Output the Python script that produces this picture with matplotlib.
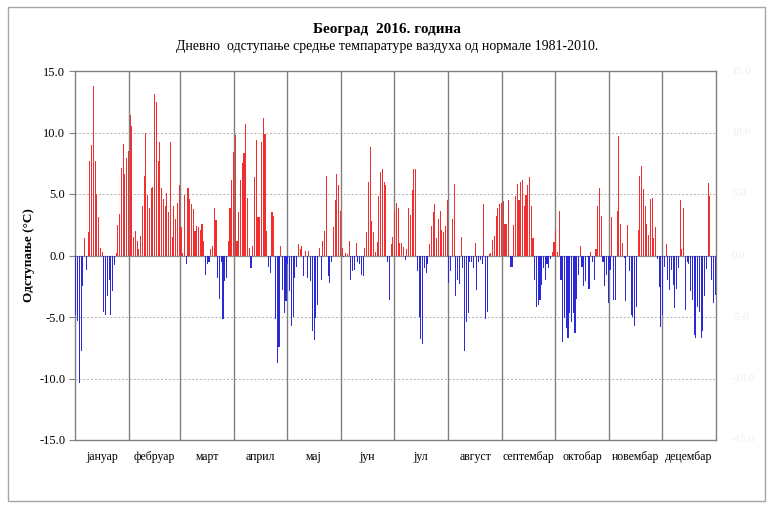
import matplotlib
matplotlib.use("Agg")
import matplotlib.pyplot as plt
import numpy as np
from matplotlib.patches import Rectangle

# ---- data (deviation from 1981-2010 normal, °C) ----
jan = [-4.8, -5.3, -10.4, -7.8, -2.5, 1.4, -1.2, 1.9, 7.7, 9.0, 13.8, 7.7, 5.0, 3.1, 0.6, 0.3,
       -4.6, -4.8, -3.3, -2.0, -4.8, -2.9, -0.8, 0.2, 2.5, 3.4, 7.1, 9.1, 6.6, 7.9, 8.5]
feb = [11.4, 10.5, 1.5, 2.0, 1.2, 0.5, 1.6, 4.0, 6.5, 10.0, 4.9, 3.9, 5.5, 5.6, 13.1, 12.5,
       7.7, 9.2, 5.5, 4.6, 4.0, 5.1, 3.5, 9.2, 1.5, 4.0, 3.0, 4.3, 5.7]
mar = [2.3, 0.2, 4.9, -0.7, 5.5, 4.6, 4.2, 3.8, 2.0, 2.4, 2.3, 2.1, 2.6, 1.2, -1.6, -0.7,
       -0.5, 0.5, 0.8, 3.9, 2.9, -1.8, -3.5, -0.5, -5.2, -2.1, -1.8, 1.2, 3.9, 6.1, 8.4]
apr = [9.8, 1.2, 3.5, 6.1, 7.5, 8.3, 10.7, 4.7, 0.6, -1.0, 0.8, 6.4, 9.4, 3.1, 3.1, 9.2,
       11.2, 9.9, 2.0, -0.9, -1.4, 3.5, 3.2, -5.2, -8.7, -7.4, 0.8, -2.8, -4.7, -3.7]
may = [-0.7, -2.9, -5.7, -5.0, -1.8, -0.9, 0.9, 0.5, 0.8, -1.7, 0.4, -1.8, 0.4, -2.1, -6.1, -6.9,
       -5.1, -4.0, 0.6, -2.0, 1.2, 2.0, 6.5, -1.7, -2.2, -0.5, 2.3, 4.5, 6.6, 5.7, 3.6]
jun = [0.6, -0.1, 0.2, 0.1, 1.2, -2.0, -1.3, -1.2, 1.0, -0.5, -0.7, -1.6, -1.7, 0.6, 1.9, 6.0,
       8.8, 2.8, 1.9, 0.3, 1.1, 4.8, 6.8, 7.0, 6.0, 5.7, -0.5, -3.6, 0.9, 1.5]
jul = [3.7, 4.3, 3.9, 1.0, 1.0, 0.7, -0.4, 0.5, 3.9, 3.3, 5.3, 7.0, 7.0, -1.3, -5.0, -6.8,
       -7.2, -1.0, -1.4, -0.7, 0.9, 2.4, 3.5, 4.2, 1.4, 3.0, 3.6, 2.1, 1.9, 2.4, 4.5]
aug = [-2.2, -1.3, 3.0, 5.8, -3.3, -2.0, -2.3, 1.5, -1.0, -7.8, -5.4, -4.7, -0.5, -0.5, -1.0, 1.0,
       -2.8, -0.5, -0.4, -0.7, 4.2, -5.2, -4.6, 0.1, 0.2, 1.3, 1.6, 3.2, 3.9, 4.2, 4.3]
sep = [4.4, 2.6, 2.6, 4.5, -0.9, -0.9, 2.5, 4.8, 5.8, 4.5, 6.0, 6.1, 4.0, 4.9, 5.7, 6.4,
       4.0, 1.4, -2.0, -4.2, -4.0, -3.6, -2.4, -1.0, -2.0, -0.7, -1.0, -0.3, 0.3, 1.1]
oct_ = [2.1, 0.3, 3.6, -2.0, -7.0, -5.1, -5.9, -6.7, -4.7, -5.4, -4.7, -6.3, -3.5, -1.6, 0.8, -0.9,
        -2.5, -2.1, -0.1, -2.7, 0.3, -0.5, -2.0, 0.5, 4.0, 5.5, 3.2, -0.5, -2.5, -1.6, -3.9]
nov = [-1.2, 3.1, -3.6, -3.6, 3.6, 9.7, 2.6, 1.0, -0.2, -3.7, 2.5, -1.3, -4.8, -5.0, -5.7, -4.2,
       2.1, 6.5, 7.3, 5.4, 4.0, 2.6, 1.7, 4.6, 4.7, 1.4, 2.3, -0.3, -2.6, -5.8]
dec = [-4.8, -0.9, 0.9, -2.0, -2.8, -1.2, -2.4, -4.3, -2.7, -1.0, 4.5, 0.5, 3.9, -4.4, -0.5, -0.7,
       -2.9, -3.6, -6.5, -6.7, -4.2, -4.6, -6.7, -6.1, -3.3, -1.1, 5.9, 4.8, -2.0, -3.9, -3.2]

months = ['јануар', 'фебруар', 'март', 'април', 'мај', 'јун',
          'јул', 'август', 'септембар', 'октобар', 'новембар', 'децембар']
y_ticks = [-15.0, -10.0, -5.0, 0.0, 5.0, 10.0, 15.0]

title = 'Београд  2016. година'
subtitle = 'Дневно  одступање средње темпаратуре ваздуха од нормале 1981-2010.'
ylabel = 'Одступање (°C)'

# ---- build ----
monthly = [jan, feb, mar, apr, may, jun, jul, aug, sep, oct_, nov, dec]
values = np.concatenate([np.array(m, float) for m in monthly])
lengths = np.array([len(m) for m in monthly])
bounds = np.concatenate([[0], np.cumsum(lengths)])
centers = (bounds[:-1] + bounds[1:]) / 2.0
days = np.arange(len(values)) + 0.5

SERIF = ['Liberation Serif', 'DejaVu Serif']
plt.rcParams['font.family'] = SERIF

W, H = 773, 508
fig = plt.figure(figsize=(W / 100, H / 100), dpi=100)
fig.patches.append(Rectangle((8 / W, 7 / H), 757 / W, 494 / H, transform=fig.transFigure,
                             fill=False, edgecolor='#a6a6a6', linewidth=1.0))

ax = fig.add_axes([75 / W, 68 / H, (716 - 75) / W, (440 - 71) / H])
ax.set_xlim(0, bounds[-1])
ax.set_ylim(-15, 15)

colors = np.where(values >= 0, '#f03030', '#2a2ad8')
ax.bar(days, values, width=0.62, color=colors, linewidth=0, zorder=3)

for g in [-10, -5, 5, 10]:
    ax.axhline(g, color='#b0b0b0', linestyle=(0, (2, 2)), linewidth=0.7, zorder=1)
ax.axhline(0, color='#909090', linewidth=0.9, zorder=2)
for b in bounds[1:-1]:
    ax.axvline(b, color='#808080', linewidth=1.0, zorder=2)

for s in ax.spines.values():
    s.set_color('#808080')
    s.set_linewidth(1.0)

ax.set_yticks(y_ticks)
ax.set_yticklabels([f'{v:.1f}' for v in y_ticks], fontsize=9)
ax.tick_params(axis='y', direction='out', length=4, color='#808080', pad=3)
ax.set_xticks(centers)
ax.set_xticklabels(months, fontsize=8.5)
ax.tick_params(axis='x', length=0, pad=8)

# faint secondary labels on the right
for v in y_ticks:
    ax.text(1.025, (v + 15) / 30, f'{v:.1f}', transform=ax.transAxes, ha='left', va='center',
            fontsize=8, color='#ededed')

ax.set_ylabel(ylabel, fontsize=9.5, fontweight='bold', labelpad=3)

fig.text(387 / W, 1 - 30 / H, title, ha='center', va='center', fontsize=11, fontweight='bold')
fig.text(387 / W, 1 - 46 / H, subtitle, ha='center', va='center', fontsize=10)

fig.savefig('out.png', dpi=100)
